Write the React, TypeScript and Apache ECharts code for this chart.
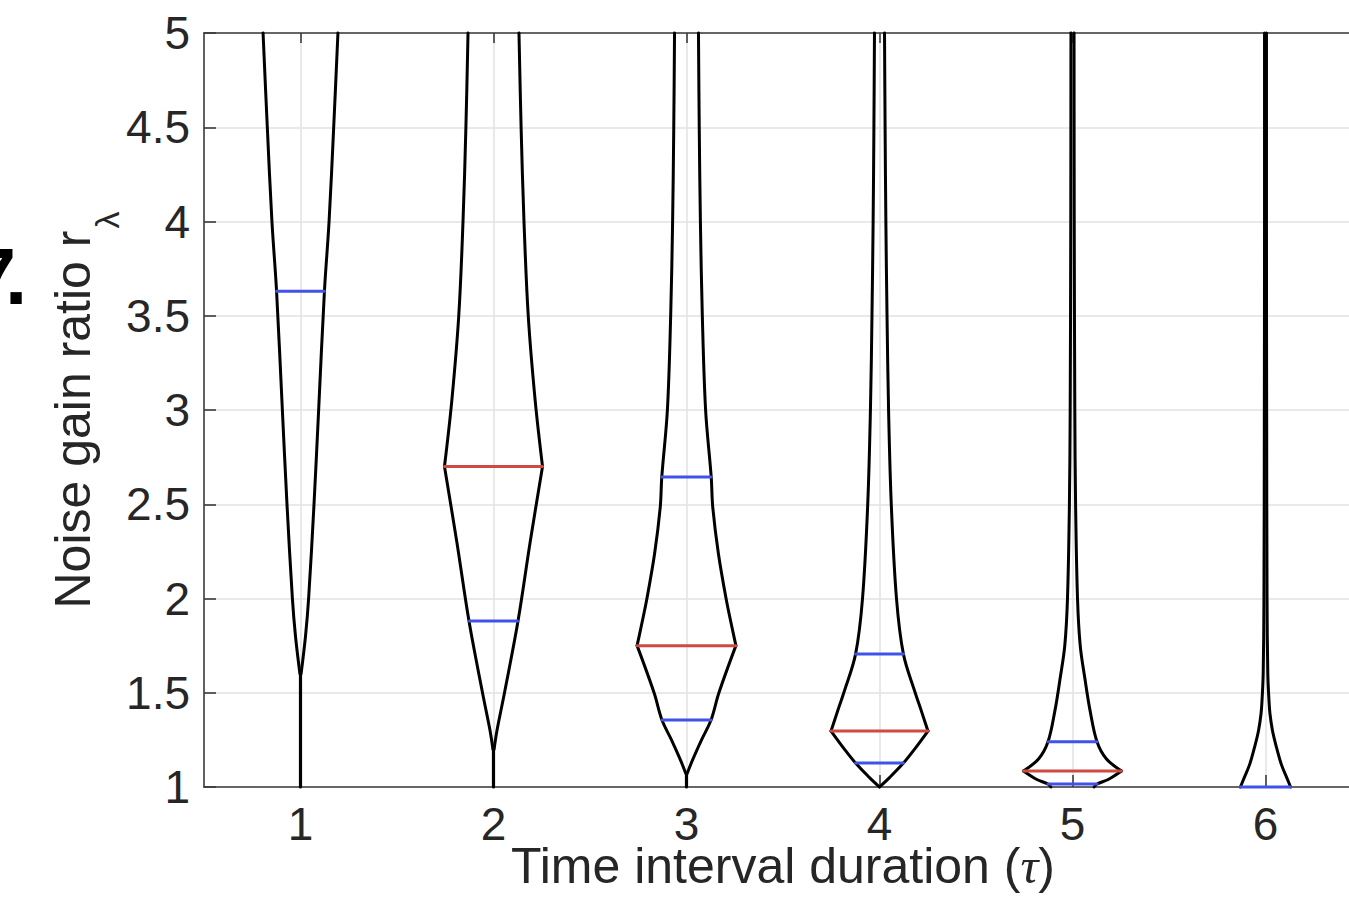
import { useEffect, useRef } from "react";
import * as echarts from "echarts";

// ---- data ----
const categories = [1, 2, 3, 4, 5, 6];
const xTickLabels = ["1", "2", "3", "4", "5", "6"];

// violin profiles: y values (top to bottom) and half-widths (x units)
const violin1Y = [5, 4.5, 4, 3.63, 3.0, 2.5, 2.0, 1.8, 1.6];
const violin1W = [0.194, 0.172, 0.148, 0.124, 0.094, 0.07, 0.042, 0.026, 0.003];

const violin2Y = [5, 4.5, 4, 3.5, 3.05, 2.7, 2.3, 1.88, 1.5, 1.3, 1.2];
const violin2W = [0.132, 0.143, 0.158, 0.18, 0.216, 0.254, 0.19, 0.127, 0.057, 0.018, 0.003];

const violin3Y = [5, 4.5, 4, 3.5, 3.0, 2.645, 2.485, 2.24, 2.0, 1.85, 1.75, 1.5, 1.355, 1.25, 1.14, 1.07];
const violin3W = [0.062, 0.066, 0.072, 0.082, 0.099, 0.128, 0.136, 0.165, 0.205, 0.235, 0.256, 0.168, 0.127, 0.078, 0.03, 0.003];

const violin4Y = [5, 4.5, 4, 3.5, 3.0, 2.5, 2.0, 1.705, 1.5, 1.4, 1.297, 1.2, 1.127, 1.05, 1.0];
const violin4W = [0.026, 0.029, 0.033, 0.039, 0.047, 0.061, 0.088, 0.124, 0.185, 0.218, 0.251, 0.181, 0.124, 0.052, 0.0];

const violin5Y = [5, 4, 3, 2.5, 2.0, 1.75, 1.57, 1.4, 1.24, 1.15, 1.085, 1.04, 1.016, 1.0];
const violin5W = [0.008, 0.009, 0.012, 0.016, 0.026, 0.04, 0.065, 0.092, 0.127, 0.175, 0.254, 0.185, 0.127, 0.112];

const violin6Y = [5, 4, 3, 2, 1.6, 1.46, 1.39, 1.3, 1.21, 1.12, 1.05, 1.0];
const violin6W = [0.005, 0.005, 0.006, 0.008, 0.012, 0.018, 0.023, 0.036, 0.057, 0.082, 0.11, 0.13];

// y where the thin stem starts (null = no stem)
const stemTops: (number | null)[] = [1.6, 1.2, 1.07, null, null, null];

// [center, y, half-width]
const blueLines: [number, number, number][] = [
  [1, 3.63, 0.124],
  [2, 1.88, 0.125],
  [3, 2.645, 0.128],
  [3, 1.355, 0.127],
  [4, 1.705, 0.124],
  [4, 1.127, 0.124],
  [5, 1.24, 0.127],
  [5, 1.016, 0.127],
  [6, 1.0, 0.13],
];
const redLines: [number, number, number][] = [
  [2, 2.7, 0.254],
  [3, 1.75, 0.256],
  [4, 1.297, 0.251],
  [5, 1.085, 0.254],
];

const violinYs = [violin1Y, violin2Y, violin3Y, violin4Y, violin5Y, violin6Y];
const violinWs = [violin1W, violin2W, violin3W, violin4W, violin5W, violin6W];

const TEXT = "#262626";
const AXIS = "#3a3a3a";
const GRIDC = "#e2e2e2";
const FONT = "Liberation Sans";
const BLUE = "#4152e6";
const RED = "#cf4a42";

function lineSeries(data: number[][], color: string, width: number, smooth: number | boolean = false) {
  return {
    type: "line",
    data,
    showSymbol: false,
    symbol: "none",
    smooth,
    clip: false,
    silent: true,
    lineStyle: { color, width, cap: "round", join: "round" },
    z: 3,
  };
}

function buildSeries() {
  const out: any[] = [];
  violinYs.forEach((ys, i) => {
    const ws = violinWs[i];
    const c = categories[i];
    let m = 0;
    ws.forEach((w, k) => {
      if (w > ws[m]) m = k;
    });
    const segs = [
      [0, m],
      [m, ys.length - 1],
    ];
    segs.forEach(([a, b]) => {
      if (b <= a) return;
      const left: number[][] = [];
      const right: number[][] = [];
      for (let k = a; k <= b; k++) {
        left.push([c - ws[k], ys[k]]);
        right.push([c + ws[k], ys[k]]);
      }
      out.push(lineSeries(left, "#000", 3, 0.35));
      out.push(lineSeries(right, "#000", 3, 0.35));
    });
    const st = stemTops[i];
    if (st !== null) {
      out.push(lineSeries([[c, st], [c, 1]], "#000", 3.2));
    }
  });
  redLines.forEach(([c, y, w]) => out.push(lineSeries([[c - w, y], [c + w, y]], RED, 3)));
  blueLines.forEach(([c, y, w]) => out.push(lineSeries([[c - w, y], [c + w, y]], BLUE, 3)));
  return out;
}

export default function App() {
  const ref = useRef<HTMLDivElement>(null);
  useEffect(() => {
    if (!ref.current) return;
    const chart = echarts.init(ref.current, undefined, { renderer: "svg" });
    const axisLine = { show: true, onZero: false, lineStyle: { color: AXIS, width: 1.6 } };
    const option: any = {
      animation: false,
      backgroundColor: "#fff",
      grid: { left: 204, top: 33, width: 1158, height: 754, containLabel: false },
      xAxis: [
        {
          type: "value",
          min: 0.5,
          max: 6.5,
          position: "bottom",
          axisLine,
          axisTick: { show: true, inside: true, length: 12, customValues: categories, lineStyle: { color: AXIS, width: 1.6 } },
          axisLabel: {
            customValues: categories,
            formatter: (v: number) => {
              const idx = categories.indexOf(v);
              return idx >= 0 ? xTickLabels[idx] : "";
            },
            fontSize: 46,
            fontFamily: FONT,
            color: TEXT,
            margin: 14,
          },
          splitLine: { show: true, lineStyle: { color: GRIDC, width: 1.5 } },
          name: "Time interval duration ({it|τ})",
          nameLocation: "middle",
          nameGap: 54,
          nameMoveOverlap: false,
          nameTextStyle: {
            fontSize: 50,
            fontFamily: FONT,
            color: TEXT,
            rich: {
              it: { fontSize: 50, fontFamily: "Liberation Serif", fontStyle: "italic", color: TEXT },
            },
          },
        },
        {
          type: "value",
          min: 0.5,
          max: 6.5,
          position: "top",
          axisLine,
          axisTick: { show: true, inside: true, length: 10, customValues: categories, lineStyle: { color: AXIS, width: 1.6 } },
          axisLabel: { show: false },
          splitLine: { show: false },
        },
      ],
      yAxis: [
        {
          type: "value",
          min: 1,
          max: 5,
          interval: 0.5,
          position: "left",
          axisLine,
          axisTick: { show: true, inside: true, length: 12, lineStyle: { color: AXIS, width: 1.6 } },
          axisLabel: { fontSize: 46, fontFamily: FONT, color: TEXT, margin: 14 },
          splitLine: { show: true, lineStyle: { color: GRIDC, width: 1.5 } },
          name: "{m|Noise gain ratio r}{sub|λ}",
          nameLocation: "middle",
          nameRotate: 90,
          nameGap: 106,
          nameMoveOverlap: false,
          nameTextStyle: {
            fontSize: 50,
            fontFamily: FONT,
            color: TEXT,
            rich: {
              m: { fontSize: 50, lineHeight: 50, fontFamily: FONT, color: TEXT, verticalAlign: "top" },
              sub: { fontSize: 34, lineHeight: 34, fontFamily: FONT, color: TEXT, verticalAlign: "top", padding: [42, 0, 0, 2] },
            },
          },
        },
        {
          type: "value",
          min: 1,
          max: 5,
          interval: 0.5,
          position: "right",
          axisLine,
          axisTick: { show: true, inside: true, length: 12, lineStyle: { color: AXIS, width: 1.6 } },
          axisLabel: { show: false },
          splitLine: { show: false },
        },
      ],
      graphic: [
        {
          type: "text",
          x: 16,
          y: 276,
          style: {
            text: "7",
            fontSize: 80,
            fontWeight: "bold",
            fontFamily: FONT,
            fill: "#000",
            align: "right",
            verticalAlign: "middle",
          },
        },
        {
          type: "text",
          x: 5,
          y: 276,
          style: {
            text: ".",
            fontSize: 80,
            fontWeight: "bold",
            fontFamily: FONT,
            fill: "#000",
            align: "left",
            verticalAlign: "middle",
          },
        },
      ],
      series: buildSeries(),
    };
    chart.setOption(option);
    return () => chart.dispose();
  }, []);
  return (
    <div style={{ position: "fixed", left: 0, top: 0, width: 1349, height: 903, overflow: "hidden", background: "#fff" }}>
      <div ref={ref} style={{ width: 1420, height: 903 }} />
    </div>
  );
}
